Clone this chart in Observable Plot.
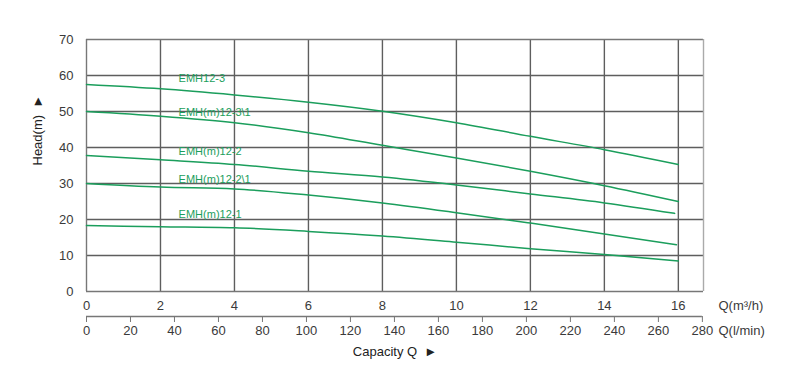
<!DOCTYPE html>
<html>
<head>
<meta charset="utf-8">
<script src="https://cdn.jsdelivr.net/npm/d3@7"></script>
<script src="https://cdn.jsdelivr.net/npm/@observablehq/plot@0.6"></script>
<style>
  html, body { margin: 0; padding: 0; background: #fff; }
  #chart svg { display: block; }
</style>
</head>
<body>
<div id="chart"></div>
<script>
// Flow in m³/h
const qFull = [0, 2, 4, 6, 8, 10, 12, 14, 16];
const qShort = [0, 2, 4, 6, 8, 10, 12, 14, 15.9];
// Head (m) per model
const headEMH12_3   = [57.5, 56.3, 54.6, 52.6, 50.1, 46.9, 43.1, 39.4, 35.3];
const headEMH12_3_1 = [50.0, 48.7, 46.9, 44.1, 40.6, 37.1, 33.4, 29.4, 25.0];
const headEMH12_2   = [37.8, 36.6, 35.3, 33.4, 31.8, 29.6, 27.1, 24.6, 21.7];
const headEMH12_2_1 = [30.0, 29.0, 28.5, 26.8, 24.6, 21.9, 19.0, 16.0, 13.0];
const headEMH12_1   = [18.3, 18.0, 17.7, 16.7, 15.4, 13.7, 11.9, 10.3, 8.5];

const seriesNames = ["EMH12-3", "EMH(m)12-3\\1", "EMH(m)12-2", "EMH(m)12-2\\1", "EMH(m)12-1"];
const labelHeads = [59.2, 49.8, 39.0, 31.0, 21.4];
const labelQ = 2.49;

const yTicks = [0, 10, 20, 30, 40, 50, 60, 70];
const qTicks = [0, 2, 4, 6, 8, 10, 12, 14, 16];
const lpmTicks = [0, 20, 40, 60, 80, 100, 120, 140, 160, 180, 200, 220, 240, 260, 280];

const xMax = 16.68;
const k = 16.65 / 280; // l/min position in m³/h axis units

const seriesList = [
  {name: seriesNames[0], q: qFull, h: headEMH12_3},
  {name: seriesNames[1], q: qFull, h: headEMH12_3_1},
  {name: seriesNames[2], q: qShort, h: headEMH12_2},
  {name: seriesNames[3], q: [0, 2, 4, 6, 8, 10, 12, 14, 15.95], h: headEMH12_2_1},
  {name: seriesNames[4], q: qFull, h: headEMH12_1}
];
const rows = seriesList.flatMap(s => s.q.map((q, i) => ({series: s.name, q, h: s.h[i]})));
const labels = seriesNames.map((n, i) => ({name: n, q: labelQ, h: labelHeads[i]}));

const green = "#1b9e5c";
const grid = "#5e5e5e";

const chart = Plot.plot({
  width: 812,
  height: 368,
  marginLeft: 86,
  marginRight: 109,
  marginTop: 39,
  marginBottom: 77,
  style: {fontFamily: "'Liberation Sans', Arial, sans-serif", fontSize: "13px", color: "#3a3a3a", background: "#fff"},
  x: {domain: [0, xMax]},
  y: {domain: [0, 70]},
  marks: [
    Plot.gridX({ticks: qTicks.slice(1), stroke: grid, strokeOpacity: 1, strokeWidth: 1.4}),
    Plot.gridY({ticks: yTicks.slice(1, -1), stroke: grid, strokeOpacity: 1, strokeWidth: 1.4}),
    Plot.ruleY([70], {stroke: "#777", strokeWidth: 1.4}),
    Plot.ruleY([0], {stroke: "#777", strokeWidth: 1.4}),
    Plot.ruleX([0], {stroke: "#777", strokeWidth: 1.4}),
    Plot.ruleX([xMax], {stroke: "#aaa", strokeWidth: 1.4}),
    Plot.line(rows, {x: "q", y: "h", z: "series", stroke: green, strokeWidth: 1.5, curve: "monotone-x"}),
    Plot.text(labels, {x: "q", y: "h", text: "name", textAnchor: "start", fill: green, fontSize: 11}),
    Plot.axisY({ticks: yTicks, tickSize: 0, tickPadding: 13, label: null, fontSize: 13}),
    Plot.axisX({ticks: qTicks, tickSize: 0, tickPadding: 9, label: null}),
    Plot.ruleY([0], {x1: 0, x2: 280 * k, dy: 25, stroke: "#777", strokeWidth: 1.4}),
    Plot.axisX({ticks: lpmTicks.map(v => v * k), tickFormat: d => Math.round(d / k), tickSize: 6, tickPadding: 3, dy: 25, label: null, stroke: "#777"}),
    Plot.text(["Q(m³/h)"], {frameAnchor: "bottom-right", dx: 15, dy: 14, textAnchor: "start", lineAnchor: "middle"}),
    Plot.text(["Q(l/min)"], {frameAnchor: "bottom-right", dx: 15, dy: 39, textAnchor: "start", lineAnchor: "middle"}),
    Plot.text(["Capacity Q  ►"], {frameAnchor: "bottom", dy: 60, lineAnchor: "middle", fill: "#222"}),
    Plot.text(["Head(m)  ►"], {frameAnchor: "left", dx: -49, rotate: -90, lineAnchor: "middle", fill: "#222"})
  ]
});
document.getElementById("chart").appendChild(chart);
</script>
</body>
</html>
